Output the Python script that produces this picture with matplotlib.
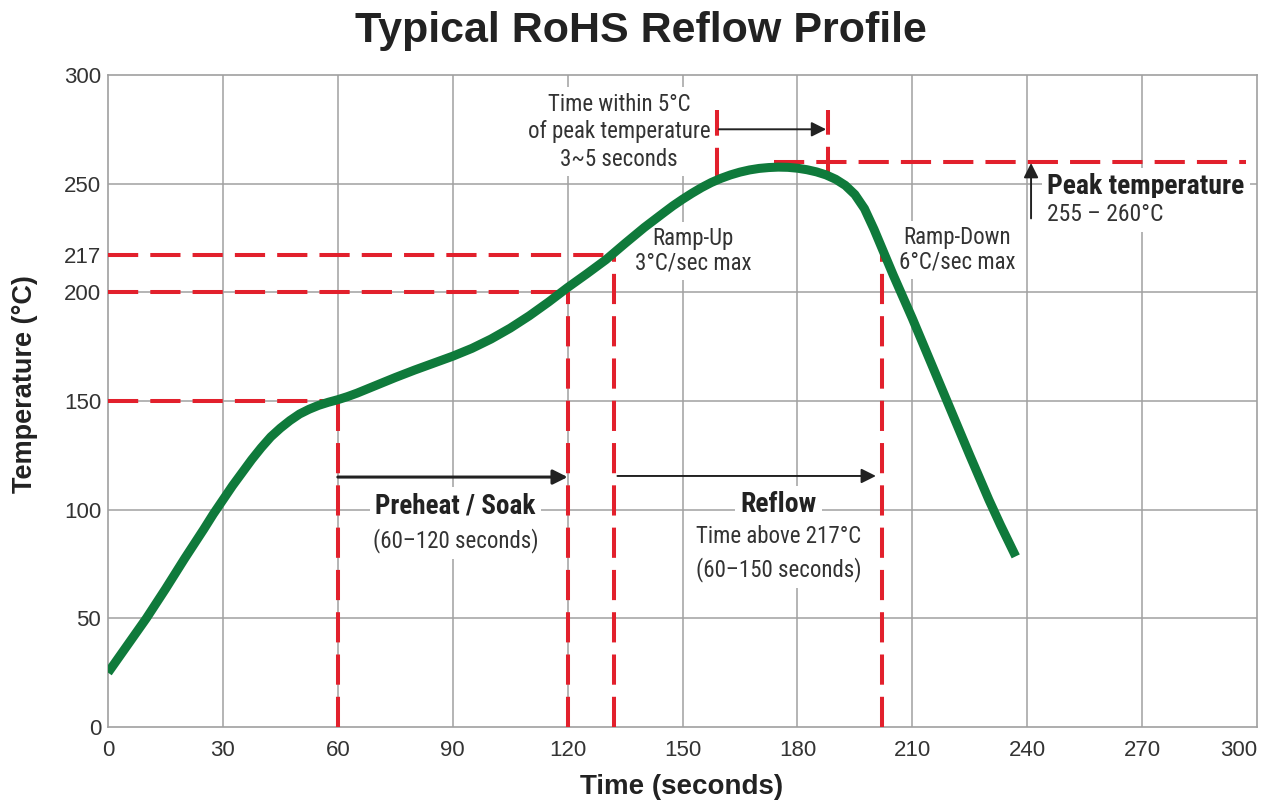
import matplotlib
matplotlib.use("Agg")
import matplotlib.pyplot as plt
from matplotlib import font_manager

# reflow curve (seconds, deg C)
time_s = [0, 5, 10, 15, 20, 25, 27.5, 30, 32.5, 35, 37.5, 40, 42.5, 45, 47.5, 50,
          52.5, 55, 57.5, 60, 62.5, 65, 70, 75, 80, 85, 90, 95, 100, 105, 110, 115,
          120, 125, 130, 135, 140, 145, 147.5, 150, 152.5, 155, 157.5, 160, 162.5,
          165, 167.5, 170, 172.5, 175, 177.5, 180, 182.5, 185, 187.5, 190, 192.5,
          195, 197.5, 200, 202.5, 205, 207.5, 210, 215, 220, 225, 230, 233, 237]
temp_c = [25, 37.5, 50, 63.5, 77.5, 91, 98, 104.5, 111, 117, 123, 128.5, 133.5,
          137.5, 141, 144, 146.2, 148, 149.4, 150.6, 152, 153.6, 157.2, 160.8, 164.2,
          167.4, 170.6, 174.2, 178.5, 183.5, 189.2, 195.5, 202.2, 208.5, 215, 222.5,
          229.8, 236.5, 239.8, 242.8, 245.6, 248.2, 250.5, 252.4, 254, 255.3, 256.3,
          257, 257.4, 257.6, 257.5, 257.1, 256.4, 255.4, 254, 252, 249.2, 245, 238.5,
          229, 218.5, 208, 198, 188, 167, 146, 125, 104.5, 93, 78.5]

xticks = [0, 30, 60, 90, 120, 150, 180, 210, 240, 270, 300]
yticks = [0, 50, 100, 150, 200, 217, 250, 300]
grid_x = [30, 60, 90, 120, 150, 180, 210, 240, 270]
grid_y = [50, 100, 150, 200, 250]

# red guide lines: (level, start, end)
h_guides = [(150, 0, 60), (200, 0, 120), (217, 0, 132), (260, 174, 297)]
v_guides = [(60, 0, 150), (120, 0, 200), (132, 0, 217), (202, 0, 217),
            (159, 252.5, 284), (188, 253, 284)]

RED = "#e2202c"
GREEN = "#0f7a3b"
GRID = "#a0a0a0"
INK = "#222222"

names = {f.name for f in font_manager.fontManager.ttflist}
narrow, shrink = "Liberation Sans", 0.84
for cand in ["Liberation Sans Narrow", "Roboto Condensed"]:
    if cand in names:
        narrow, shrink = cand, 1.0
        break

plt.rcParams["font.family"] = ["Liberation Sans", "DejaVu Sans"]

fig = plt.figure(figsize=(12.71, 8.06), dpi=100)
ax = fig.add_axes([0.085, 0.098, 0.904, 0.809])
ax.set_xlim(0, 300)
ax.set_ylim(0, 300)

for v in grid_x:
    ax.axvline(v, color=GRID, lw=1.1, zorder=1)
for v in grid_y:
    ax.axhline(v, color=GRID, lw=1.1, zorder=1)
for s in ax.spines.values():
    s.set_color(GRID)
    s.set_linewidth(1.2)

ax.set_xticks(xticks)
ax.set_yticks(yticks)
ax.tick_params(length=0, labelsize=16, labelcolor="#333333")
ax.tick_params(axis="x", pad=9)
ax.tick_params(axis="y", pad=5)
xlabels = ax.get_xticklabels()
xlabels[-1].set_horizontalalignment("right")

for y, x0, x1 in h_guides:
    ax.plot([x0, x1], [y, y], color=RED, lw=2.9, dashes=(7.5, 3), zorder=4)
for x, y0, y1 in v_guides:
    ax.plot([x, x], [y0, y1], color=RED, lw=2.9, dashes=(7.5, 3), zorder=4)

ax.plot(time_s, temp_c, color=GREEN, lw=6.5, solid_capstyle="butt",
        solid_joinstyle="round", zorder=5)


def arrow(x0, y0, x1, y1, lw=1.4):
    ax.annotate("", xy=(x1, y1), xytext=(x0, y0),
                arrowprops=dict(arrowstyle="-|>", color=INK, lw=lw,
                                mutation_scale=22, shrinkA=0, shrinkB=0),
                zorder=4)


arrow(60, 115, 120, 115, lw=2.2)
arrow(133, 115.5, 200.5, 115.5)
arrow(159.5, 275, 187.5, 275)
arrow(241, 234, 241, 259.5)

box = dict(facecolor="white", edgecolor="none", pad=4)


def label(x, y, s, size, bold=False, ha="center", ls=1.2):
    ax.text(x, y, s, ha=ha, va="center", fontsize=size * shrink, family=narrow,
            fontweight="bold" if bold else "normal", color=INK if bold else "#333333",
            linespacing=ls, bbox=box, zorder=3)


label(133.4, 273.8, "Time within 5°C\nof peak temperature\n3~5 seconds", 16.5, ls=1.25)
label(152.7, 219, "Ramp-Up\n3°C/sec max", 16.5, ls=1.1)
label(221.7, 219.5, "Ramp-Down\n6°C/sec max", 16.5, ls=1.1)
label(245.2, 248.5, "Peak temperature", 20, bold=True, ha="left")
label(245.2, 235.6, "255 – 260°C", 17, ha="left")
label(90.7, 101.5, "Preheat / Soak", 19.5, bold=True)
label(90.8, 85.6, "(60–120 seconds)", 16.5)
label(175, 102.3, "Reflow", 20, bold=True)
label(175, 79.7, "Time above 217°C\n(60–150 seconds)", 16.5, ls=1.45)

fig.text(0.504, 0.962, "Typical RoHS Reflow Profile", ha="center", va="center",
         fontsize=31, fontweight="bold", color=INK)
fig.text(0.536, 0.024, "Time (seconds)", ha="center", va="center",
         fontsize=20, fontweight="bold", color=INK)
fig.text(0.02, 0.523, "Temperature (°C)", ha="center", va="center", rotation=90,
         fontsize=19.5, fontweight="bold", color=INK)

fig.savefig("out.png", dpi=100)
